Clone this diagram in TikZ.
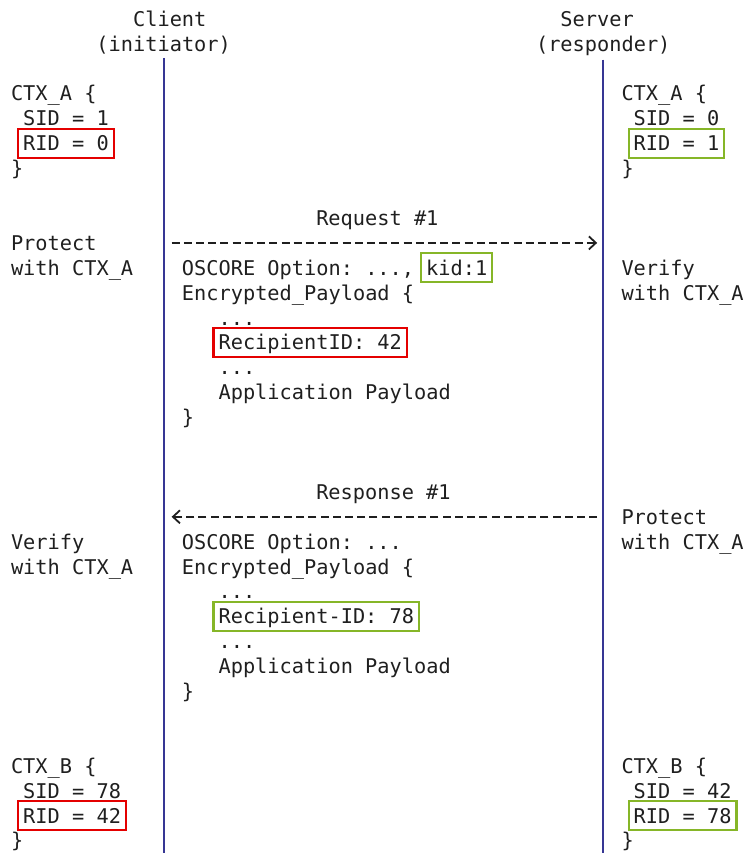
\documentclass[tikz,border=0pt]{standalone}
\usepackage{fontspec}
\setmonofont{DejaVu Sans Mono}
\usepackage{tikz}
\usetikzlibrary{arrows.meta,positioning}
\usepackage{xcolor}
\definecolor{ridred}{RGB}{228,0,0}
\definecolor{ridgreen}{RGB}{134,182,40}
\colorlet{txtcol}{black!88}
\colorlet{linecol}{rgb:red,20;green,20;blue,55}

\begin{document}
\begin{tikzpicture}[x=12.21pt, y=24.9pt, >={Straight Barb[length=7pt,width=13pt]},
    font=\ttfamily\fontsize{20.3}{24.9}\selectfont, text=txtcol,
    every node/.style={inner sep=0pt},
    txt/.style={anchor=text, yshift=-7.4pt},
    idbox/.style={txt, draw=#1, line width=2.2pt, inner xsep=5pt, inner ysep=3pt,
        text height=19pt, text depth=4pt},
    lifeline/.style={draw=linecol, line width=1.8pt},
    msg/.style={draw=txtcol, line width=1.8pt, dash pattern=on 8pt off 4.21pt}]
\useasboundingbox (-11pt,18.8pt) rectangle (738pt,-834.2pt);

% endpoints
\node[txt] (client)     at (10,0)  {Client};
\node[txt] (clientrole) at (7,-1)  {(initiator)};
\node[txt] (server)     at (45,0)  {Server};
\node[txt] (serverrole) at (43,-1) {(responder)};
\coordinate (bottom) at (0,-33.5);
\draw[lifeline] ([yshift=-4pt]clientrole.south) -- (clientrole.south |- bottom);
\draw[lifeline] ([yshift=-4pt]serverrole.south) -- (serverrole.south |- bottom);

% contexts A
\node[txt] (ctxAc) at (0,-3) {CTX\_A \{};
\node[txt] (sidAc) at (1,-4) {SID = 1};
\node[idbox=ridred] (ridAc) at (1,-5) {RID = 0};
\node[txt] (endAc) at (0,-6) {\}};
\node[txt] (ctxAs) at (50,-3) {CTX\_A \{};
\node[txt] (sidAs) at (51,-4) {SID = 0};
\node[idbox=ridgreen] (ridAs) at (51,-5) {RID = 1};
\node[txt] (endAs) at (50,-6) {\}};

% request
\node[txt] (reqlabel) at (25,-8) {Request \#1};
\coordinate (reqL) at (12.5,-9);
\coordinate (reqR) at (48.5,-9);
\draw[msg,->] ([xshift=8pt]reqL) -- ([xshift=-6pt]reqR);
\node[txt] (protectc)  at (0,-9)   {Protect};
\node[txt] (protectc2) at (0,-10)  {with CTX\_A};
\node[txt] (verifys)   at (50,-10) {Verify};
\node[txt] (verifys2)  at (50,-11) {with CTX\_A};
\node[txt] (reqopt)    at (14,-10) {OSCORE Option: ...,};
\node[idbox=ridgreen] (kid) at (34,-10) {kid:1};
\node[txt] (reqpay)    at (14,-11) {Encrypted\_Payload \{};
\node[txt] (reqdots1)  at (17,-12) {...};
\node[idbox=ridred] (reqrid) at (17,-13) {RecipientID: 42};
\node[txt] (reqdots2)  at (17,-14) {...};
\node[txt] (reqapp)    at (17,-15) {Application Payload};
\node[txt] (reqend)    at (14,-16) {\}};

% response
\node[txt] (resplabel) at (25,-19) {Response \#1};
\coordinate (respL) at (12.5,-20);
\coordinate (respR) at (48.5,-20);
\draw[msg,->] ([xshift=-6pt]respR) -- ([xshift=8pt]respL);
\node[txt] (protects)  at (50,-20) {Protect};
\node[txt] (protects2) at (50,-21) {with CTX\_A};
\node[txt] (verifyc)   at (0,-21)  {Verify};
\node[txt] (verifyc2)  at (0,-22)  {with CTX\_A};
\node[txt] (respopt)   at (14,-21) {OSCORE Option: ...};
\node[txt] (resppay)   at (14,-22) {Encrypted\_Payload \{};
\node[txt] (respdots1) at (17,-23) {...};
\node[idbox=ridgreen] (resprid) at (17,-24) {Recipient-ID: 78};
\node[txt] (respdots2) at (17,-25) {...};
\node[txt] (respapp)   at (17,-26) {Application Payload};
\node[txt] (respend)   at (14,-27) {\}};

% contexts B
\node[txt] (ctxBc) at (0,-30) {CTX\_B \{};
\node[txt] (sidBc) at (1,-31) {SID = 78};
\node[idbox=ridred] (ridBc) at (1,-32) {RID = 42};
\node[txt] (endBc) at (0,-33) {\}};
\node[txt] (ctxBs) at (50,-30) {CTX\_B \{};
\node[txt] (sidBs) at (51,-31) {SID = 42};
\node[idbox=ridgreen] (ridBs) at (51,-32) {RID = 78};
\node[txt] (endBs) at (50,-33) {\}};
\end{tikzpicture}
\end{document}
